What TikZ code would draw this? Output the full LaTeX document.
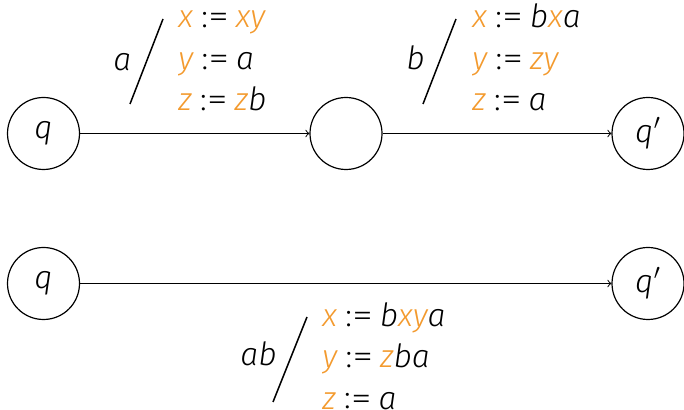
\documentclass[tikz,border=0pt]{standalone}
\usepackage{fontspec}
\usepackage{graphicx}
\setmainfont{Fira Sans}[UprightFont=* Light, ItalicFont=* Light Italic]
\definecolor{vorange}{HTML}{F39A2E}
\newcommand{\ceq}{\hspace{0.26em}{\upshape\raisebox{0.03em}{:}\kern0.01em\scalebox{1.3}[1]{=}}\hspace{0.22em}}
\newcommand{\ov}[1]{\textcolor{vorange}{#1}}
\begin{document}
\begin{tikzpicture}[x=0.5pt,y=-0.5pt,
  state/.style={circle,draw,line width=0.6pt,minimum size=36pt,inner sep=0pt,font=\fontsize{16}{19}\selectfont\itshape},
  lbl/.style={anchor=base west,inner sep=0pt,font=\fontsize{16}{19}\selectfont\itshape},
  tr/.style={->,line width=0.5pt},
  slash/.style={line width=0.75pt}]
\useasboundingbox (0,0) rectangle (684,410);
% states
\node[state] (q1) at (43.5,133.5) {q};
\node[state] (m) at (346,133.5) {};
\node[state] (q2) at (648,133.5) {q\kern0.02em$'$};
\node[state] (r1) at (43.5,283.5) {q};
\node[state] (r2) at (648,283.5) {q\kern0.02em$'$};
\draw[tr] (q1) -- (m);
\draw[tr] (m) -- (q2);
\draw[tr] (r1) -- (r2);
% label 1
\node[lbl] (l1a) at (113,71) {a};
\draw[slash] (130,104) -- (163,19);
\node[lbl] (l1x) at (178,28) {\ov{x}\ceq\ov{xy}};
\node[lbl] (l1y) at (178,70) {\ov{y}\ceq a};
\node[lbl] (l1z) at (178,111) {\ov{z}\ceq\ov{z}b};
% label 2
\node[lbl] (l2b) at (406,70) {b};
\draw[slash] (423,104) -- (456,19);
\node[lbl] (l2x) at (472,28) {\ov{x}\ceq b\ov{x}a};
\node[lbl] (l2y) at (472,70) {\ov{y}\ceq\ov{zy}};
\node[lbl] (l2z) at (472,111) {\ov{z}\ceq a};
% label 3
\node[lbl] (l3ab) at (240,366) {ab};
\draw[slash] (273,402) -- (307,317);
\node[lbl] (l3x) at (322,327) {\ov{x}\ceq b\ov{xy}a};
\node[lbl] (l3y) at (322,368) {\ov{y}\ceq\ov{z}ba};
\node[lbl] (l3z) at (322,409) {\ov{z}\ceq a};
\end{tikzpicture}
\end{document}
